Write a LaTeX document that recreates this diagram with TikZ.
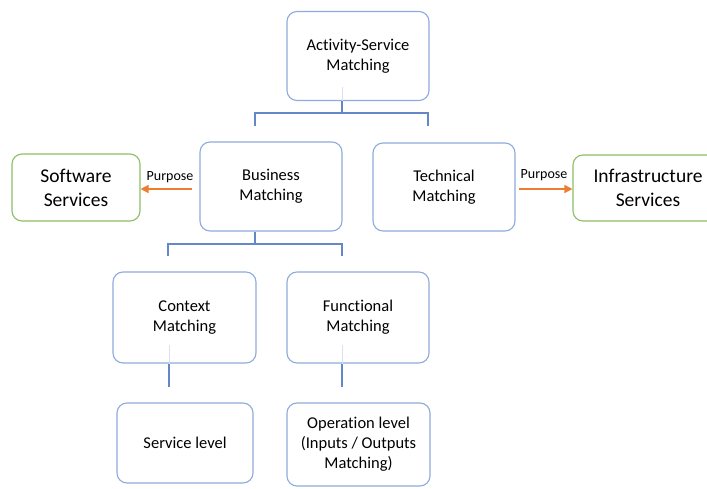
\documentclass[tikz,border=0pt]{standalone}
\usepackage{fontspec}
\setmainfont{Carlito}[Ligatures=NoCommon]
\usetikzlibrary{arrows.meta}
\definecolor{boxblue}{RGB}{143,170,220}
\definecolor{linkblue}{RGB}{100,135,200}
\definecolor{svcgreen}{RGB}{140,190,100}
\definecolor{purporange}{RGB}{237,125,49}
\begin{document}
\begin{tikzpicture}[x=1pt,y=-1pt,
    match/.style={draw=boxblue,line width=1.1pt,rounded corners=10pt,align=center,
        font=\fontsize{16.5}{20}\selectfont,minimum width=142pt,minimum height=89pt,inner sep=0pt},
    svc/.style={draw=svcgreen,line width=1.1pt,rounded corners=10pt,align=center,
        font=\fontsize{19.5}{24}\selectfont,minimum width=128pt,minimum height=67pt,inner sep=0pt},
    link/.style={draw=linkblue,line width=2pt},
    faint/.style={draw=boxblue!35,line width=1pt},
    purp/.style={draw=purporange,line width=1.5pt,-{Triangle[length=8pt,width=8pt]}},
    plabel/.style={font=\fontsize{14}{16}\selectfont,inner sep=1pt}]
    \clip (0,0) rectangle (707,489);
    % boxes
    \node[match] (asm) at (358,56) {Activity-Service\\Matching};
    \node[match] (bus) at (271,186.5) {Business\\Matching};
    \node[match,minimum height=88pt] (tec) at (444,187) {Technical\\Matching};
    \node[svc] (sws) at (76,187.5) {Software\\Services};
    \node[svc,minimum width=150pt,minimum height=66pt] (ifs) at (648,188) {Infrastructure\\Services};
    \node[match,minimum width=143pt,minimum height=91pt] (ctx) at (184.5,317.5) {Context\\Matching};
    \node[match,minimum height=91pt] (fun) at (358,317.5) {Functional\\Matching};
    \node[match,minimum width=136pt,minimum height=80pt] (svl) at (185,443) {Service level};
    \node[match,minimum width=143pt,minimum height=83pt] (opl) at (358.5,444.5) {Operation level\\(Inputs / Outputs\\Matching)};
    % tree joints
    \coordinate (asmj) at (342,113);
    \coordinate (busj) at (255,244);
    \foreach \n/\x/\y in {asml/255/126, asmr/428/126, busl/168/256, busr/342/256, ctxe/169/387, fune/342/387}
        \coordinate (\n) at (\x,\y);
    % connectors
    \draw[faint] (asmj |- 0,87) -- (asmj |- asm.south);
    \draw[link] (asmj |- asm.south) -- (asmj);
    \draw[link] (asml) |- (asmj) -| (asmr);
    \draw[link] (busj |- bus.south) -- (busj);
    \draw[link] (busl) |- (busj) -| (busr);
    \foreach \b/\e in {ctx/ctxe, fun/fune}
        {\draw[faint] (\e |- 0,345) -- (\e |- \b.south);
        \draw[link] (\e |- \b.south) -- (\e);}
    % purpose arrows
    \draw[purp,shorten <=7pt] (bus.west |- 0,189) -- node[plabel,above,yshift=4pt] {Purpose} (sws.east |- 0,189);
    \draw[purp,shorten <=3pt] (tec.east |- 0,189) -- node[plabel,above,yshift=6pt] {Purpose} (ifs.west |- 0,189);
\end{tikzpicture}
\end{document}
